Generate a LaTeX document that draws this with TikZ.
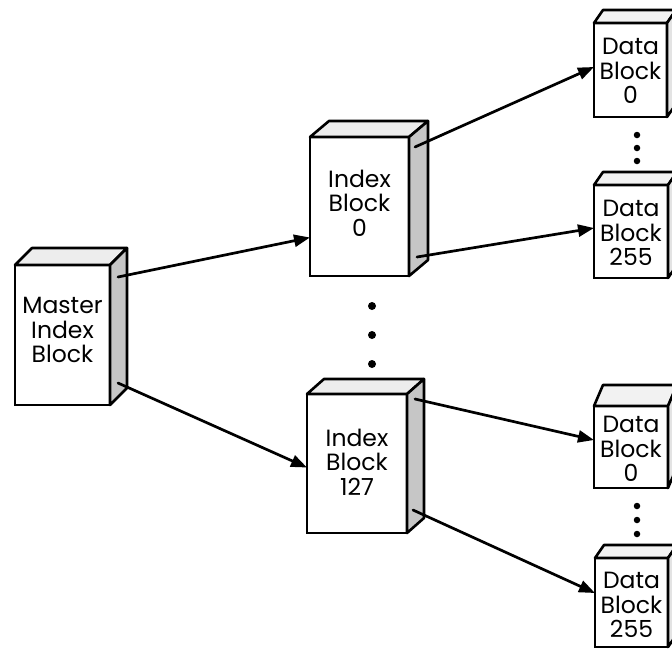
\documentclass[tikz,border=0pt]{standalone}
\usepackage{fontspec}
\setmainfont{Poppins}
\usetikzlibrary{arrows.meta,calc}

% front face of a block, carrying no text
\tikzset{
  front/.style={draw, line width=2.8pt, fill=white, inner sep=0pt, outer sep=0pt},
  toptint/.style={draw, line width=2.6pt, line join=round, fill=gray!14},
  sidetint/.style={draw, line width=2.6pt, line join=round, fill=gray!45},
  datatop/.style={draw, line width=2.6pt, line join=round, fill=gray!10},
  dataside/.style={draw, line width=2.6pt, line join=round, fill=gray!22},
  caption/.style={align=center, inner sep=0pt, font=\fontsize{23.5}{24.5}\selectfont},
  conn/.style={line width=2.7pt, -{Triangle[length=16pt,width=12pt]}, line cap=round},
  bigdot/.style={circle, fill=black, minimum size=8pt, inner sep=0pt},
  smalldot/.style={circle, fill=black, minimum size=6.5pt, inner sep=0pt}
}

% top and right faces of a block: #1 node name, #2/#3 depth offset, #4/#5 styles
\newcommand\blockfaces[5]{%
  \draw[#4] (#1.north west) -- ($(#1.north west)+(#2,#3)$)
    -- ($(#1.north east)+(#2,#3)$) -- (#1.north east) -- cycle;
  \draw[#5] (#1.north east) -- ($(#1.north east)+(#2,#3)$)
    -- ($(#1.south east)+(#2,#3)$) -- (#1.south east) -- cycle;
}

\begin{document}
\begin{tikzpicture}[x=1pt,y=-1pt]
\useasboundingbox (0,0) rectangle (672,649);
\clip (0,0) rectangle (672,649);

% blocks
\node[front, minimum width=95pt, minimum height=140pt] (m) at (62.5,335) {};
\blockfaces{m}{17}{-17}{toptint}{sidetint}
\node[caption] (mt) at (62.5,330) {Master\\Index\\Block};

\node[front, minimum width=99pt, minimum height=139pt] (i0) at (359.5,206.5) {};
\blockfaces{i0}{19}{-16}{toptint}{sidetint}
\node[caption] (i0t) at (359.5,203) {Index\\Block\\0};

\node[front, minimum width=100pt, minimum height=139pt] (i1) at (357,463.5) {};
\blockfaces{i1}{17}{-15}{toptint}{sidetint}
\node[caption] (i1t) at (357,462) {Index\\Block\\127};

\node[front, minimum width=73pt, minimum height=94pt] (d0) at (630.5,70) {};
\blockfaces{d0}{9}{-13}{datatop}{dataside}
\node[caption] (d0t) at (630.5,71) {Data\\Block\\0};

\node[front, minimum width=74pt, minimum height=93pt] (d1) at (631,231.5) {};
\blockfaces{d1}{9}{-13}{datatop}{dataside}
\node[caption] (d1t) at (631,233) {Data\\Block\\255};

\node[front, minimum width=74pt, minimum height=82pt] (d2) at (631,447) {};
\blockfaces{d2}{9}{-21}{datatop}{dataside}
\node[caption] (d2t) at (631,449) {Data\\Block\\0};

\node[front, minimum width=73pt, minimum height=89pt] (d3) at (631.5,602.5) {};
\blockfaces{d3}{9}{-13}{datatop}{dataside}
\node[caption] (d3t) at (631.5,605) {Data\\Block\\255};

% connector ends on the side faces and front faces
\coordinate (m-o1) at ($(m.east)+(8,-58)$);
\coordinate (m-o2) at ($(m.east)+(8,48)$);
\coordinate (i0-in) at ($(i0.west)+(0,31)$);
\coordinate (i1-in) at ($(i1.west)+(0,4)$);
\coordinate (i0-o1) at ($(i0.east)+(6,-59.5)$);
\coordinate (i0-o2) at ($(i0.east)+(8,50.5)$);
\coordinate (i1-o1) at ($(i1.east)+(8,-64.5)$);
\coordinate (i1-o2) at ($(i1.east)+(6,46.5)$);
\coordinate (d0-in) at ($(d0.west)+(0,-3)$);
\coordinate (d1-in) at ($(d1.west)+(0,-3.5)$);
\coordinate (d2-in) at ($(d2.west)+(0,-7)$);
\coordinate (d3-in) at ($(d3.west)+(0,-9.5)$);

% connectors
\draw[conn] (m-o1) -- (i0-in);
\draw[conn] (m-o2) -- (i1-in);
\draw[conn] (i0-o1) -- (d0-in);
\draw[conn] (i0-o2) -- (d1-in);
\draw[conn] (i1-o1) -- (d2-in);
\draw[conn] (i1-o2) -- (d3-in);

% ellipsis dots
\node[bigdot] (v1) at (372,306) {};
\node[bigdot] (v2) at (372,335) {};
\node[bigdot] (v3) at (372,364) {};
\node[smalldot] (u1) at (637,135) {};
\node[smalldot] (u2) at (637,148) {};
\node[smalldot] (u3) at (637,161) {};
\node[smalldot] (w1) at (637,506) {};
\node[smalldot] (w2) at (637,520) {};
\node[smalldot] (w3) at (637,534) {};
\end{tikzpicture}
\end{document}
